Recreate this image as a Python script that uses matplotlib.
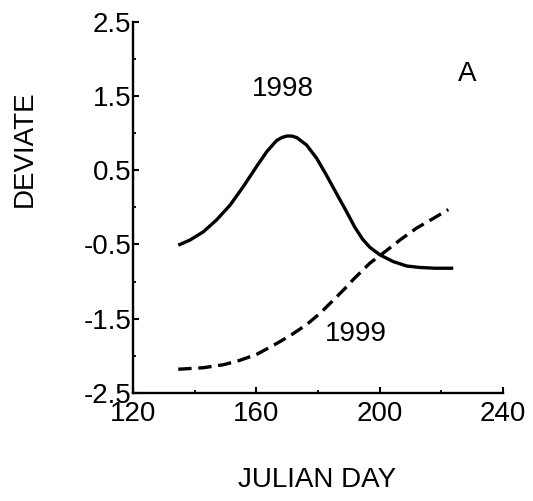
import matplotlib
matplotlib.use('Agg')
import matplotlib.pyplot as plt
from matplotlib.ticker import MultipleLocator

# values
days_1998 = [134.7, 138.5, 142.8, 147.1, 151.5, 155.8, 160.1, 163.4, 166.6, 168.3,
             169.9, 171.5, 173.1, 176.3, 179.6, 182.8, 186.1, 189.3, 192.0, 194.5,
             196.9, 200.1, 204.4, 208.8, 213.1, 218.0, 223.9]
dev_1998 = [-0.51, -0.44, -0.33, -0.17, 0.03, 0.28, 0.55, 0.75, 0.90, 0.94,
            0.96, 0.96, 0.94, 0.84, 0.66, 0.43, 0.18, -0.06, -0.27, -0.43,
            -0.54, -0.64, -0.73, -0.79, -0.81, -0.82, -0.82]

days_1999 = [134.7, 142.8, 149.3, 154.7, 160.1, 165.5, 170.9, 176.3, 180.6, 185.0,
             189.3, 191.5, 196.9, 202.3, 206.6, 212.0, 217.4, 222.3]
dev_1999 = [-2.18, -2.16, -2.12, -2.06, -1.98, -1.86, -1.73, -1.58, -1.43, -1.25,
            -1.07, -0.97, -0.75, -0.58, -0.44, -0.28, -0.15, -0.03]

x_ticks = [120, 160, 200, 240]
y_ticks = [-2.5, -1.5, -0.5, 0.5, 1.5, 2.5]

plt.rcParams['font.family'] = ['Liberation Sans', 'DejaVu Sans']

fig = plt.figure(figsize=(5.33, 5.01), dpi=100)
ax = fig.add_axes([0.2495, 0.2156, 0.694, 0.7411])

ax.plot(days_1998, dev_1998, color='black', lw=2.4,
        solid_joinstyle='round', solid_capstyle='butt')
ax.plot(days_1999, dev_1999, color='black', lw=2.4, dashes=(4, 2),
        dash_joinstyle='round')

ax.text(168.7, 1.6, '1998', fontsize=20, ha='center', va='center')
ax.text(192.2, -1.71, '1999', fontsize=20, ha='center', va='center')
ax.text(228.3, 1.8, 'A', fontsize=20, ha='center', va='center')

ax.set_xlim(120, 240)
ax.set_ylim(-2.5, 2.5)
ax.set_xticks(x_ticks)
ax.set_yticks(y_ticks)
ax.set_yticklabels([str(v) for v in y_ticks])
ax.xaxis.set_minor_locator(MultipleLocator(20))
ax.yaxis.set_minor_locator(MultipleLocator(0.5))

for side in ['top', 'right']:
    ax.spines[side].set_visible(False)
for side in ['left', 'bottom']:
    ax.spines[side].set_linewidth(1.7)

ax.tick_params(which='major', direction='in', length=4, width=1.5,
               labelsize=20)
ax.tick_params(axis='x', which='major', pad=6)
ax.tick_params(axis='y', which='major', pad=1)
ax.tick_params(which='minor', direction='in', length=2.5, width=1.3)

fig.text(25 / 533, 1 - 149 / 501, 'DEVIATE', rotation=90, fontsize=20,
         ha='center', va='center')
fig.text(317 / 533, 1 - 480 / 501, 'JULIAN DAY', fontsize=20,
         ha='center', va='center')

fig.savefig('out.png', dpi=100)
